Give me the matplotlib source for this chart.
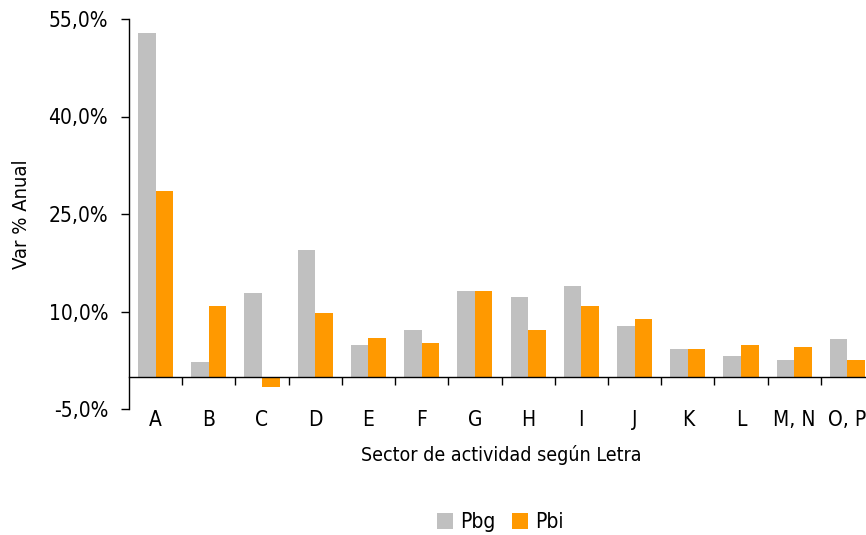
import matplotlib
matplotlib.use("Agg")
import matplotlib.pyplot as plt
from matplotlib.ticker import FixedLocator, FuncFormatter
import numpy as np

categories = ["A", "B", "C", "D", "E", "F", "G", "H", "I", "J", "K", "L", "M, N", "O, P"]
pbg = [52.9, 2.3, 12.8, 19.5, 4.8, 7.1, 13.2, 12.2, 14.0, 7.7, 4.2, 3.2, 2.6, 5.7]
pbi = [28.6, 10.8, -1.6, 9.7, 6.0, 5.1, 13.2, 7.2, 10.8, 8.9, 4.2, 4.8, 4.5, 2.6]
yticks = [-5, 10, 25, 40, 55]

plt.rcParams['font.family'] = ['DejaVu Sans']
plt.rcParams['font.stretch'] = 'condensed'

fig = plt.figure(figsize=(8.66, 5.35), dpi=100)
ax = fig.add_axes([129/866, 126/535, 745/866, 390/535])

x = np.arange(len(categories))
w = 0.33
ax.bar(x - w/2, pbg, width=w, color="#C0C0C0", label="Pbg")
ax.bar(x + w/2, pbi, width=w, color="#FF9900", label="Pbi")

ax.set_xlim(-0.5, len(categories) - 0.5)
ax.set_ylim(-5, 55)

ax.spines['top'].set_visible(False)
ax.spines['right'].set_visible(False)
ax.spines['bottom'].set_position(('data', 0))
ax.spines['left'].set_linewidth(1.0)
ax.spines['bottom'].set_linewidth(1.0)

ax.yaxis.set_major_locator(FixedLocator(yticks))
ax.yaxis.set_major_formatter(FuncFormatter(lambda v, p: f"{v:.1f}%".replace(".", ",")))
ax.tick_params(axis='y', direction='out', length=6, width=1, pad=9, labelsize=15)

ax.set_xticks(x)
ax.set_xticklabels(categories)
ax.set_xticks(np.arange(0.5, len(categories) - 0.5, 1), minor=True)
ax.tick_params(axis='x', which='major', length=0, pad=24, labelsize=15)
ax.tick_params(axis='x', which='minor', direction='out', length=6, width=1)

ax.set_ylabel("Var % Anual", fontsize=14.5)
ax.yaxis.set_label_coords(-0.132, 0.5)
ax.set_xlabel("Sector de actividad según Letra", fontsize=14, labelpad=11)

fig.legend(loc='center', bbox_to_anchor=(500/866, 1 - 522/535), ncol=2, frameon=False,
           fontsize=15, handlelength=0.8, handleheight=0.8, handletextpad=0.3,
           columnspacing=0.8)

fig.savefig("out.png", dpi=100)
